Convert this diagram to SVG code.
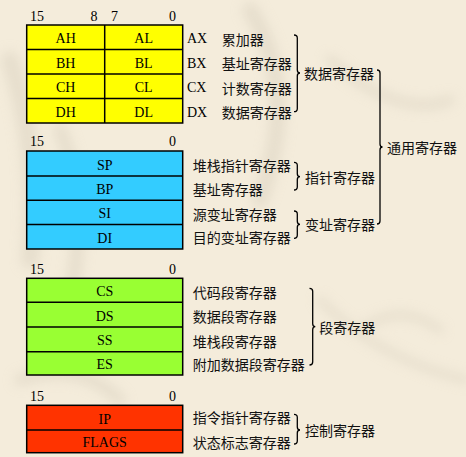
<svg xmlns="http://www.w3.org/2000/svg" width="466" height="457" viewBox="0 0 466 457">
<defs>
<style>
.reg{stroke:#000;stroke-width:1.5}
.y{fill:#ffff00}.b{fill:#33ccff}.g{fill:#99ff33}.r{fill:#ff3300}
.ln{stroke:#000;stroke-width:1.5;fill:none}
.lat{font-family:"Liberation Serif","Times New Roman",serif;font-size:14px;fill:#000}
.c{text-anchor:middle}
.e{text-anchor:end}
.cjk{font-family:"Noto Sans CJK SC","Noto Sans CJK TC",sans-serif;font-size:14px;fill:#111}
.br{stroke:#000;stroke-width:1.3;fill:none}
.bgs{fill:none;stroke:#d9d0bf;stroke-linecap:round}
</style>
<filter id="blur"><feGaussianBlur stdDeviation="6"/></filter>
</defs>
<rect width="466" height="457" fill="#f4ecdb"/>
<g id="background" opacity="0.5" filter="url(#blur)">
<path class="bgs" stroke-width="18" d="M10 60 Q40 150 30 260"/>
<path class="bgs" stroke-width="14" d="M60 130 Q90 200 70 300"/>
<path class="bgs" stroke-width="16" d="M250 10 Q300 90 260 200"/>
<path class="bgs" stroke-width="10" d="M330 60 Q400 120 450 100"/>
<path class="bgs" stroke-width="8" d="M320 300 Q380 360 466 380"/>
<path class="bgs" stroke-width="8" d="M360 330 Q400 300 440 330"/>
<path class="bgs" stroke-width="12" d="M20 380 Q80 360 120 400"/>
</g>

<g id="connectors">
<path id="brace-data" class="br" d="M294 35 Q297.3 35 297.3 38 L297.3 70 Q297.3 73 300 73 Q297.3 73 297.3 76 L297.3 108.7 Q297.3 111.7 294 111.7"/>
<path id="brace-general" class="br" d="M377 70 Q380 70 380 73 L380 144 Q380 147 382.5 147 Q380 147 380 150 L380 221 Q380 224 377 224"/>
<path id="brace-pointer" class="br" d="M294 162.3 Q297.3 162.3 297.3 165.3 L297.3 173.7 Q297.3 176.7 300 176.7 Q297.3 176.7 297.3 179.7 L297.3 187 Q297.3 190 294 190"/>
<path id="brace-index" class="br" d="M294 211 Q297.3 211 297.3 214 L297.3 221.3 Q297.3 224.3 300 224.3 Q297.3 224.3 297.3 227.3 L297.3 235.3 Q297.3 238.3 294 238.3"/>
<path id="brace-seg" class="br" d="M309.5 288.3 Q312.7 288.3 312.7 291.3 L312.7 323.7 Q312.7 326.7 315.3 326.7 Q312.7 326.7 312.7 329.7 L312.7 362 Q312.7 365 309.5 365"/>
<path id="brace-ctrl" class="br" d="M294 414.3 Q297.3 414.3 297.3 417.3 L297.3 427 Q297.3 430 300 430 Q297.3 430 297.3 433 L297.3 441 Q297.3 444 294 444"/>
</g>

<g id="data-registers">
<text class="lat" x="30" y="20.7">15</text>
<text class="lat e" x="97.5" y="20.7">8</text>
<text class="lat" x="111" y="20.7">7</text>
<text class="lat e" x="176" y="20.7">0</text>
<rect class="reg y" x="26.7" y="25" width="156" height="98"/>
<path class="ln" d="M104.7 25 V123 M26.7 49.5 H182.7 M26.7 74 H182.7 M26.7 98.5 H182.7"/>
<text class="lat c" x="65.7" y="43">AH</text>
<text class="lat c" x="143.7" y="43">AL</text>
<text class="lat c" x="65.7" y="67.5">BH</text>
<text class="lat c" x="143.7" y="67.5">BL</text>
<text class="lat c" x="65.7" y="92">CH</text>
<text class="lat c" x="143.7" y="92">CL</text>
<text class="lat c" x="65.7" y="116.5">DH</text>
<text class="lat c" x="143.7" y="116.5">DL</text>
<text class="lat" x="187" y="43">AX</text>
<text class="lat" x="187" y="67.5">BX</text>
<text class="lat" x="187" y="92">CX</text>
<text class="lat" x="187" y="116.5">DX</text>
<text class="cjk" x="221.7" y="44.5">累加器</text>
<text class="cjk" x="221.7" y="69">基址寄存器</text>
<text class="cjk" x="221.7" y="93.5">计数寄存器</text>
<text class="cjk" x="221.7" y="118">数据寄存器</text>
</g>

<g id="pointer-index-registers">
<text class="lat" x="30" y="146.3">15</text>
<text class="lat e" x="176" y="146.3">0</text>
<rect class="reg b" x="26.7" y="151" width="156" height="98"/>
<path class="ln" d="M26.7 176 H182.7 M26.7 200.3 H182.7 M26.7 224.5 H182.7"/>
<text class="lat c" x="104.7" y="169.5">SP</text>
<text class="lat c" x="104.7" y="194">BP</text>
<text class="lat c" x="104.7" y="218.3">SI</text>
<text class="lat c" x="104.7" y="242.5">DI</text>
<text class="cjk" x="192.7" y="171">堆栈指针寄存器</text>
<text class="cjk" x="192.7" y="195">基址寄存器</text>
<text class="cjk" x="192.7" y="219.5">源变址寄存器</text>
<text class="cjk" x="192.7" y="243">目的变址寄存器</text>
</g>

<g id="segment-registers">
<text class="lat" x="30" y="274">15</text>
<text class="lat e" x="176" y="274">0</text>
<rect class="reg g" x="26.7" y="278.3" width="156" height="96.7"/>
<path class="ln" d="M26.7 302.3 H182.7 M26.7 327 H182.7 M26.7 351.7 H182.7"/>
<text class="lat c" x="104.7" y="296.3">CS</text>
<text class="lat c" x="104.7" y="320.7">DS</text>
<text class="lat c" x="104.7" y="345.3">SS</text>
<text class="lat c" x="104.7" y="369.3">ES</text>
<text class="cjk" x="192.7" y="298">代码段寄存器</text>
<text class="cjk" x="192.7" y="321.5">数据段寄存器</text>
<text class="cjk" x="192.7" y="346.5">堆栈段寄存器</text>
<text class="cjk" x="192.7" y="369.5">附加数据段寄存器</text>
</g>

<g id="control-registers">
<text class="lat" x="30" y="400.7">15</text>
<text class="lat e" x="176" y="400.7">0</text>
<rect class="reg r" x="26.7" y="405.3" width="156" height="47.4"/>
<path class="ln" d="M26.7 430 H182.7"/>
<text class="lat c" x="104.7" y="423.5">IP</text>
<text class="lat c" x="104.7" y="447">FLAGS</text>
<text class="cjk" x="192.7" y="423">指令指针寄存器</text>
<text class="cjk" x="192.7" y="447.5">状态标志寄存器</text>
</g>

<g id="group-labels">
<text class="cjk" x="304" y="78.5">数据寄存器</text>
<text class="cjk" x="387" y="152.5">通用寄存器</text>
<text class="cjk" x="305" y="182.5">指针寄存器</text>
<text class="cjk" x="305" y="230">变址寄存器</text>
<text class="cjk" x="319.3" y="333">段寄存器</text>
<text class="cjk" x="305" y="435.8">控制寄存器</text>
</g>
</svg>
